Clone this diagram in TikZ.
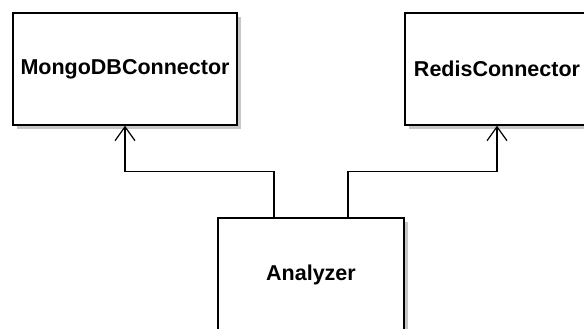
\documentclass[tikz,border=0pt]{standalone}
\usepackage{fontspec}
\setmainfont{Liberation Sans}
\usetikzlibrary{shadows,arrows.meta}

\tikzset{
	classbox/.style={draw=black,line width=1.4pt,fill=white,
		drop shadow={shadow xshift=4pt,shadow yshift=-4pt,fill=black!22,opacity=1},
		font=\bfseries\fontsize{21.5}{24}\selectfont,inner sep=0pt},
	assoc/.style={line width=1.2pt,-{Straight Barb[length=14pt,width=20pt,line width=1.2pt]}}
}

\begin{document}
\begin{tikzpicture}[x=1pt,y=-1pt]
				\fill[white] (0,0) rectangle (584,329);
				\useasboundingbox (0,0) rectangle (584,329);
				
				% the three classes
				\node[classbox,minimum width=224pt,minimum height=112pt] (mongo) at (125,69) {MongoDBConnector};
				\node[classbox,minimum width=184pt,minimum height=112pt] (redis) at (497,69) {RedisConnector};
				\node[classbox,minimum width=186pt,minimum height=114pt] (analyzer) at (311,275) {Analyzer};
				
				\draw[assoc] ([xshift=-37pt]analyzer.north) -- ++(0,-46) -| (mongo.south);
				\draw[assoc] ([xshift=37pt]analyzer.north) -- ++(0,-46) -| (redis.south);
			\end{tikzpicture}
\end{document}
